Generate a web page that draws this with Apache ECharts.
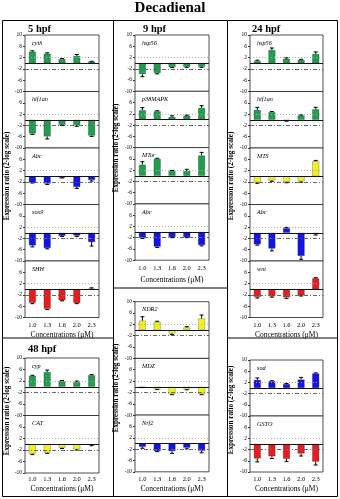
<!DOCTYPE html>
<html><head><meta charset="utf-8">
<script src="https://cdn.jsdelivr.net/npm/echarts@6/dist/echarts.min.js"></script>
<style>html,body{margin:0;padding:0;background:#fff}#c{width:340px;height:499px}</style>
</head><body><div id="c"></div>
<script>
const categories = ['1.0','1.3','1.6','2.0','2.3'];
// 5 hpf
const cyth_5 = [4.1, 3.4, 1.5, 2.6, 0.6];
const cyth_5_err = [0.3, 0.3, 0.2, 0.5, 0.1];
const hif_5 = [-4.9, -5.9, -1.8, -1.9, -5.6];
const hif_5_err = [0.3, 0.9, 0.2, 0.4, 0.3];
const abc_5 = [-2.2, -2.6, -0.5, -3.8, -1.3];
const abc_5_err = [0.2, 0.3, 0.1, 0.5, 0.4];
const sox9_5 = [-4.5, -5.4, -1.1, -1.0, -3.3];
const sox9_5_err = [0.5, 0.3, 0.2, 0.3, 1.4];
const shh_5 = [-4.8, -6.9, -3.9, -4.9, 0.2];
const shh_5_err = [0.3, 0.3, 0.2, 0.2, 0.3];
// 9 hpf
const hsp_9 = [-3.9, -3.5, -1.4, -1.3, -1.3];
const hsp_9_err = [0.9, 0.3, 0.2, 0.2, 0.2];
const p38_9 = [3.3, 2.9, 0.9, 1.3, 4.1];
const p38_9_err = [0.9, 0.2, 0.4, 0.2, 0.8];
const mtor_9 = [3.9, 6.0, 1.7, 1.7, 7.2];
const mtor_9_err = [1.1, 0.2, 0.2, 0.6, 1.1];
const abc_9 = [-2.0, -5.2, -1.8, -1.8, -4.6];
const abc_9_err = [0.3, 0.3, 0.2, 0.2, 0.3];
// 24 hpf
const hsp_24 = [0.8, 4.7, 1.6, 1.2, 3.3];
const hsp_24_err = [0.3, 0.7, 0.3, 0.2, 0.7];
const hif_24 = [3.5, 2.7, -0.3, 1.5, 3.7];
const hif_24_err = [0.9, 0.2, 0.2, 0.2, 0.7];
const mts_24 = [-2.2, -1.5, -2.0, -1.8, 5.3];
const mts_24_err = [0.3, 0.3, 0.3, 0.3, 0.3];
const abc_24 = [-4.1, -5.6, 1.6, -8.2, -0.5];
const abc_24_err = [0.3, 0.8, 0.3, 1.2, 0.3];
const wnt_24 = [-2.7, -2.5, -2.9, -2.2, 3.9];
const wnt_24_err = [0.4, 0.3, 0.4, 0.2, 0.2];
// 48 hpf
const cyp_48 = [3.8, 5.1, 2.0, 1.6, 4.0];
const cyp_48_err = [0.2, 0.7, 0.2, 0.4, 0.2];
const cat_48 = [-3.3, -2.9, -1.2, -1.8, -0.2];
const cat_48_err = [0.3, 0.3, 0.3, 0.2, 0.3];
// column 2, lower
const ndr = [3.3, 2.9, -1.2, 0.9, 4.1];
const ndr_err = [1.4, 0.2, 0.4, 0.3, 1.2];
const mdz = [-0.2, -0.8, -2.6, -0.9, -2.6];
const mdz_err = [0.1, 0.2, 0.2, 0.2, 0.2];
const nrf = [-1.2, -2.7, -2.7, -1.5, -2.6];
const nrf_err = [0.5, 0.2, 0.8, 0.4, 0.7];
// column 3, lower
const sod = [2.9, 2.4, 1.4, 3.0, 5.2];
const sod_err = [0.7, 0.2, 0.2, 0.8, 0.2];
const gsto = [-5.2, -4.4, -5.3, -3.4, -6.3];
const gsto_err = [1.2, 0.8, 1.0, 0.9, 1.2];

const GREEN = '#1f9e4e', BLUE = '#1414e8', RED = '#e81c1c', YELLOW = '#f4f020';
const FONT = 'Liberation Serif';

const groups = [
  {left:25, width:74, top:35, h:56.5, title:'5 hpf', tx:28, ty:30, yx:7, yy:176, lblGap:4, nameGap:14,
   panels:[['cyth',cyth_5,cyth_5_err,GREEN],['hif1an',hif_5,hif_5_err,GREEN],['Abc',abc_5,abc_5_err,BLUE],['sox9',sox9_5,sox9_5_err,BLUE],['SHH',shh_5,shh_5_err,RED]]},
  {left:135, width:74, top:35, h:56.3, title:'9 hpf', tx:143, ty:30, yx:116, yy:148, lblGap:5, nameGap:16,
   panels:[['hsp56',hsp_9,hsp_9_err,GREEN],['p38MAPK',p38_9,p38_9_err,GREEN],['MTor',mtor_9,mtor_9_err,GREEN],['Abc',abc_9,abc_9_err,BLUE]]},
  {left:250, width:73, top:35, h:56.5, title:'24 hpf', tx:252, ty:30, yx:231, yy:176, lblGap:4, nameGap:14,
   panels:[['hsp56',hsp_24,hsp_24_err,GREEN],['hif1an',hif_24,hif_24_err,GREEN],['MTS',mts_24,mts_24_err,YELLOW],['Abc',abc_24,abc_24_err,BLUE],['wnt',wnt_24,wnt_24_err,RED]]},
  {left:25, width:74, top:358, h:57.5, title:'48 hpf', tx:28, ty:350, yx:7, yy:411, lblGap:3, nameGap:12,
   panels:[['cyp',cyp_48,cyp_48_err,GREEN],['CAT',cat_48,cat_48_err,YELLOW]]},
  {left:135, width:74, top:301.7, h:56.7, title:'', yx:116, yy:388, lblGap:4, nameGap:13,
   panels:[['NDR2',ndr,ndr_err,YELLOW],['MDZ',mdz,mdz_err,YELLOW],['Nrf2',nrf,nrf_err,BLUE]]},
  {left:250, width:73, top:360, h:56, title:'', yx:231, yy:410, lblGap:4, nameGap:13,
   panels:[['sod',sod,sod_err,BLUE],['GSTO',gsto,gsto_err,RED]]}
];

function errRender(params, api){
  const x = api.value(0), v = api.value(1), e = api.value(2);
  const end = v + (v >= 0 ? e : -e);
  const p1 = api.coord([x, v]), p2 = api.coord([x, end]);
  return {type:'group', children:[
    {type:'line', shape:{x1:p1[0], y1:p1[1], x2:p2[0], y2:p2[1]}, style:{stroke:'#000', lineWidth:1}},
    {type:'line', shape:{x1:p2[0]-2, y1:p2[1], x2:p2[0]+2, y2:p2[1]}, style:{stroke:'#000', lineWidth:1}}
  ]};
}

const grid = [], xAxis = [], yAxis = [], series = [], graphic = [];
let gi = 0;
graphic.push({type:'text', left:'center', top:1, style:{text:'Decadienal', font:'bold 15px '+FONT, fill:'#000'}});
groups.forEach(g => {
  if (g.title) graphic.push({type:'text', x:g.tx, y:g.ty-6, style:{text:g.title, font:'bold 10.5px '+FONT, fill:'#000'}});
  graphic.push({type:'text', x:g.yx, y:g.yy, rotation:Math.PI/2, style:{text:'Expression ratio (2-log scale)', font:'bold 7.2px '+FONT, fill:'#000', align:'center', verticalAlign:'middle'}});
  const n = g.panels.length;
  g.panels.forEach((p, i) => {
    const top = g.top + i*g.h;
    const last = i === n-1;
    grid.push({left:g.left, width:g.width, top:top, height:g.h, show:true, borderColor:'#222', borderWidth:0.8, backgroundColor:'#fff'});
    xAxis.push({type:'category', gridIndex:gi, data:categories, position:'bottom',
      axisLine:{show:false}, axisTick:{show:false},
      axisLabel:{show:last, fontSize:6.5, fontFamily:FONT, color:'#000', margin:g.lblGap},
      name: last ? 'Concentrations (μM)' : '', nameLocation:'middle', nameGap:g.nameGap,
      nameTextStyle:{fontSize:7.5, fontFamily:FONT, color:'#000'}});
    yAxis.push({type:'value', gridIndex:gi, min:-10, max:10, interval:4,
      axisLine:{show:false}, axisTick:{show:true, length:2, lineStyle:{color:'#333'}}, splitLine:{show:false},
      axisLabel:{fontSize:5.5, fontFamily:FONT, color:'#000', margin:3, showMaxLabel: i===0}});
    series.push({type:'bar', xAxisIndex:gi, yAxisIndex:gi, data:p[1], barWidth:7,
      itemStyle:{color:p[3], borderColor:'rgba(0,0,0,0.45)', borderWidth:0.5},
      markLine:{silent:true, symbol:'none', label:{show:false},
        data:[
          {yAxis:2, lineStyle:{color:'#aaa', type:[1,2], width:1}},
          {yAxis:-2, lineStyle:{color:'#666', type:[4,2,1,2], width:1}},
          {yAxis:0, lineStyle:{color:'#111', type:'solid', width:1}}
        ]}});
    series.push({type:'custom', xAxisIndex:gi, yAxisIndex:gi, renderItem:errRender, z:5,
      data:p[1].map((v, k) => [k, v, p[2][k]])});
    graphic.push({type:'text', x:g.left+7, y:top+5, style:{text:p[0], font:'italic 6.2px '+FONT, fill:'#000'}, z:10});
    gi++;
  });
});
// frame lines
const L = (x1,y1,x2,y2) => graphic.push({type:'line', shape:{x1,y1,x2,y2}, style:{stroke:'#000', lineWidth:1}});
graphic.push({type:'rect', shape:{x:2.5, y:20.5, width:335, height:476}, style:{fill:'none', stroke:'#000', lineWidth:1}});
L(113.5,20.5,113.5,496.5);
L(227.5,20.5,227.5,496.5);
L(2.5,338,113.5,338);
L(113.5,288,227.5,288);
L(227.5,338,337.5,338);

const chart = echarts.init(document.getElementById('c'), null, {renderer:'canvas'});
chart.setOption({animation:false, grid, xAxis, yAxis, series, graphic});
</script></body></html>
